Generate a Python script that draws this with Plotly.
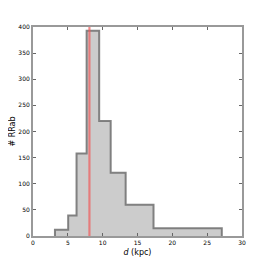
import plotly.graph_objects as go

bin_edges = [3.15, 5.05, 6.25, 7.7, 9.5, 11.15, 13.3, 17.3, 27.1]
counts = [12, 39, 158, 393, 220, 121, 60, 15]
sun_distance = 8.1
x_ticks = [0, 5, 10, 15, 20, 25, 30]
y_ticks = [0, 50, 100, 150, 200, 250, 300, 350, 400]

xs = [bin_edges[0]]
ys = [0]
for i, c in enumerate(counts):
    xs += [bin_edges[i], bin_edges[i + 1]]
    ys += [c, c]
xs.append(bin_edges[-1])
ys.append(0)

fig = go.Figure()
fig.add_trace(go.Scatter(x=xs, y=ys, mode="lines", fill="tozeroy",
                         fillcolor="rgba(204,204,204,1)",
                         line=dict(color="rgba(110,110,110,0.85)", width=2),
                         hoverinfo="skip", showlegend=False))
fig.add_trace(go.Scatter(x=[sun_distance, sun_distance], y=[0, 400], mode="lines",
                         line=dict(color="rgba(240,90,90,0.7)", width=2.2),
                         showlegend=False))

axis_common = dict(showgrid=False, zeroline=False, showline=True, linecolor="#999999",
                   linewidth=2, mirror="ticks", ticks="inside", ticklen=3,
                   tickcolor="#666666", tickwidth=1, automargin=False,
                   tickfont=dict(size=6, family="DejaVu Sans", color="#000000"))
fig.update_layout(
    width=262, height=262,
    margin=dict(l=25, r=28, t=19, b=34),
    paper_bgcolor="white", plot_bgcolor="white",
    xaxis=dict(range=[0, 30], tickvals=x_ticks, **axis_common,
               title=dict(text="<i>d</i> (kpc)", font=dict(size=8, family="DejaVu Sans", color="#000000"), standoff=4)),
    yaxis=dict(range=[0, 400], tickvals=y_ticks, **axis_common,
               title=dict(text="# RRab", font=dict(size=8, family="DejaVu Sans", color="#000000"), standoff=6)),
)
fig.write_html("out.html")
